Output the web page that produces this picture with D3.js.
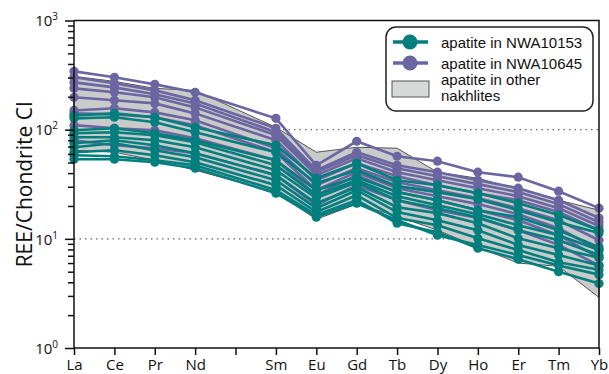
<!DOCTYPE html>
<html>
<head>
<meta charset="utf-8">
<script src="https://cdn.jsdelivr.net/npm/d3@7"></script>
<style>
  body { margin: 0; background: #fff; }
  .axis text { font-family: "Open Sans", sans-serif; font-size: 15px; fill: #111; }
  .axis path, .axis line { stroke: #111; stroke-width: 1.5px; }
</style>
</head>
<body>
<svg class="chart" width="609" height="374"></svg>
<script>
// REE elements on the x axis (Pm has a tick but no data)
const elements = ["La", "Ce", "Pr", "Nd", "Pm", "Sm", "Eu", "Gd", "Tb", "Dy", "Ho", "Er", "Tm", "Yb"];
const measured = ["La", "Ce", "Pr", "Nd", "Sm", "Eu", "Gd", "Tb", "Dy", "Ho", "Er", "Tm", "Yb"];

// apatite in NWA10153 (teal)
const nwa10153 = [
  [135, 141, 130, 105, 72, 35.9, 49.3, 34.4, 31.0, 26.2, 21.2, 16.5, 12.0],
  [127, 130, 117, 94.7, 62.1, 32.3, 42.5, 30.4, 26.8, 23.1, 18.3, 14.2, 11.3],
  [98.8, 103, 92.7, 80, 52.5, 27.9, 36.7, 26.8, 22.6, 18.3, 15.8, 12.0, 8.4],
  [92.7, 94.7, 88.9, 76.7, 47.2, 25.1, 34.4, 24.6, 20.3, 16.8, 13.3, 10.8, 7.9],
  [85.2, 85.2, 80, 69, 42.5, 23.6, 33.0, 22.6, 19.1, 15.8, 12.0, 9.7, 7.1],
  [75.1, 80, 72, 60.8, 38.3, 21.2, 29.7, 19.5, 17.2, 13.9, 10.1, 8.2, 6.7],
  [69, 75.1, 64.8, 55.9, 34.4, 19.1, 27.9, 17.6, 14.8, 12.0, 8.8, 7.1, 5.7],
  [62.1, 64.8, 58.3, 50.3, 31.0, 17.6, 25.1, 15.5, 13.3, 10.1, 7.9, 6.1, 5.2],
  [58.3, 57.1, 52.5, 47.2, 27.9, 16.5, 22.6, 13.9, 11.5, 8.2, 6.5, 5.0, 3.9],
  [53.6, 53.6, 50.3, 44.4, 26.2, 15.8, 21.2, 14.8, 10.8, 8.8, 7.1, 5.7, 4.7]
];

// apatite in NWA10645 (purple)
const nwa10645 = [
  [342, 302, 260, 220, 127, 47.2, 78.3, 57.1, 51.4, 40.8, 36.7, 27.3, 19.1],
  [302, 266, 229, 186, 103, 42.5, 62.1, 47.2, 40.8, 34.4, 29.1, 22.6, 15.5],
  [271, 244, 211, 174, 94.7, 40.8, 58.3, 44.4, 37.5, 31.7, 26.8, 20.8, 14.2],
  [239, 220, 198, 160, 88.9, 38.3, 54.7, 40.8, 34.4, 29.1, 24.6, 19.1, 13.1],
  [198, 186, 174, 141, 80, 34.4, 49.3, 37.5, 31.0, 26.2, 22.6, 17.6, 12.0],
  [150, 157, 144, 122, 67.6, 31.0, 44.4, 33.0, 27.9, 23.6, 19.1, 14.8, 9.7],
  [141, 138, 130, 110, 62.1, 27.9, 40.8, 29.1, 24.6, 20.8, 16.8, 12.5, 7.9],
  [110, 103, 98.8, 83.4, 52.5, 25.1, 38.3, 26.8, 22.6, 18.3, 14.8, 10.8, 6.7],
  [80, 72, 67.6, 60.8, 38.3, 20.3, 31.0, 22.6, 18.3, 15.5, 12.0, 8.8, 5.7]
];

// envelope of apatite in other nakhlites
const otherUpper = [308, 277, 239, 229, 105, 62.1, 69, 67.6, 40.8, 35.9, 28.5, 22.6, 18.3];
const otherLower = [64.8, 62.1, 52.5, 42.5, 26.8, 15.1, 20.8, 16.1, 12.0, 8.4, 6.0, 5.6, 2.9];

const decades = [1, 10, 100, 1000];
const legendLabels = ["apatite in NWA10153", "apatite in NWA10645", "apatite in other", "nakhlites"];

const teal = "#007f7e";
const purple = "#6b66a1";

const svg = d3.select(".chart");
const mLeft = 74, mRight = 599, mTop = 20.5, mBottom = 348;

const x = d3.scalePoint().domain(elements).range([mLeft, mRight]);
const y = d3.scaleLog().domain([1, 1000]).range([mBottom, mTop]);

// dotted grid at 10 and 100
svg.append("g")
  .selectAll("line")
  .data([10, 100])
  .enter()
  .append("line")
  .attr("x1", mLeft).attr("x2", mRight)
  .attr("y1", (d) => y(d)).attr("y2", (d) => y(d))
  .style("stroke", "#666")
  .style("stroke-width", 1.2)
  .style("stroke-dasharray", "1.5,4");

// envelope
const env = measured.map((m, i) => ({ el: m, hi: otherUpper[i], lo: otherLower[i] }));
svg.append("path")
  .datum(env)
  .attr("d", d3.area().x((d) => x(d.el)).y0((d) => y(d.lo)).y1((d) => y(d.hi)))
  .style("fill", "#c9caca")
  .style("stroke", "#444")
  .style("stroke-width", 0.9);

const line = d3.line().x((d) => x(d.el)).y((d) => y(d.v));

function drawSeries(rows, color) {
  const g = svg.append("g");
  rows.forEach((row) => {
    const pts = measured.map((m, i) => ({ el: m, v: row[i] }));
    g.append("path")
      .datum(pts)
      .attr("d", line)
      .style("fill", "none")
      .style("stroke", color)
      .style("stroke-width", 2.6);
    g.selectAll(null)
      .data(pts)
      .enter()
      .append("circle")
      .attr("cx", (d) => x(d.el))
      .attr("cy", (d) => y(d.v))
      .attr("r", 4.6)
      .style("fill", color);
  });
}

drawSeries(nwa10645, purple);
drawSeries(nwa10153, teal);

// frame top/right
svg.append("path")
  .attr("d", `M${mLeft},${mTop}H${mRight}V${mBottom}`)
  .style("fill", "none")
  .style("stroke", "#111")
  .style("stroke-width", 1.5);

// x axis
svg.append("g")
  .attr("class", "axis")
  .attr("transform", `translate(0,${mBottom})`)
  .call(d3.axisBottom(x).tickSize(7).tickPadding(4).tickFormat((d) => (d === "Pm" ? "" : d)))
  .call((g) => g.select(".domain").attr("d", `M${mLeft},0H${mRight}`));

// y axis: minor ticks
const minors = [];
decades.slice(0, 3).forEach((d) => {
  for (let k = 2; k <= 9; k++) minors.push(d * k);
});
svg.append("g")
  .attr("class", "axis")
  .attr("transform", `translate(${mLeft},0)`)
  .call(d3.axisLeft(y).tickValues(minors).tickSize(6).tickFormat(""))
  .call((g) => g.select(".domain").remove());

const yAxis = svg.append("g")
  .attr("class", "axis")
  .attr("transform", `translate(${mLeft},0)`)
  .call(d3.axisLeft(y).tickValues(decades).tickSize(9).tickFormat(""))
  .call((g) => g.select(".domain").attr("d", `M0,${mBottom}V${mTop}`));

yAxis.selectAll(".tick")
  .append("text")
  .attr("x", -16)
  .attr("dy", "0.35em")
  .attr("text-anchor", "end")
  .style("fill", "#111")
  .each(function (d) {
    const t = d3.select(this);
    t.append("tspan").text("10");
    t.append("tspan")
      .attr("dy", "-0.6em")
      .style("font-size", "10px")
      .text(Math.round(Math.log10(d)));
  });

svg.append("text")
  .attr("transform", `translate(32,${(mTop + mBottom) / 2}) rotate(-90)`)
  .attr("text-anchor", "middle")
  .style("font-family", "'Open Sans', sans-serif")
  .style("font-size", "21px")
  .style("fill", "#111")
  .text("REE/Chondrite CI");

// legend
const lg = svg.append("g").attr("transform", "translate(386,27)");
lg.append("rect")
  .attr("width", 207).attr("height", 84)
  .attr("rx", 10)
  .style("fill", "#fff")
  .style("stroke", "#222")
  .style("stroke-width", 1.5);

[teal, purple].forEach((c, i) => {
  const yy = 15 + i * 21;
  lg.append("line")
    .attr("x1", 7).attr("x2", 42).attr("y1", yy).attr("y2", yy)
    .style("stroke", c).style("stroke-width", 3.5);
  lg.append("circle")
    .attr("cx", 24).attr("cy", yy).attr("r", 7.5)
    .style("fill", c);
});
lg.append("rect")
  .attr("x", 6).attr("y", 54).attr("width", 37).attr("height", 16)
  .style("fill", "#d7d8d8")
  .style("stroke", "#555")
  .style("stroke-width", 1);

lg.selectAll(".lt")
  .data(legendLabels)
  .enter()
  .append("text")
  .attr("x", 55)
  .attr("y", (d, i) => [20.5, 41.5, 57.5, 74][i])
  .style("font-family", "'Liberation Sans', Arial, sans-serif")
  .style("font-size", "15px")
  .style("fill", "#111")
  .text((d) => d);
</script>
</body>
</html>
